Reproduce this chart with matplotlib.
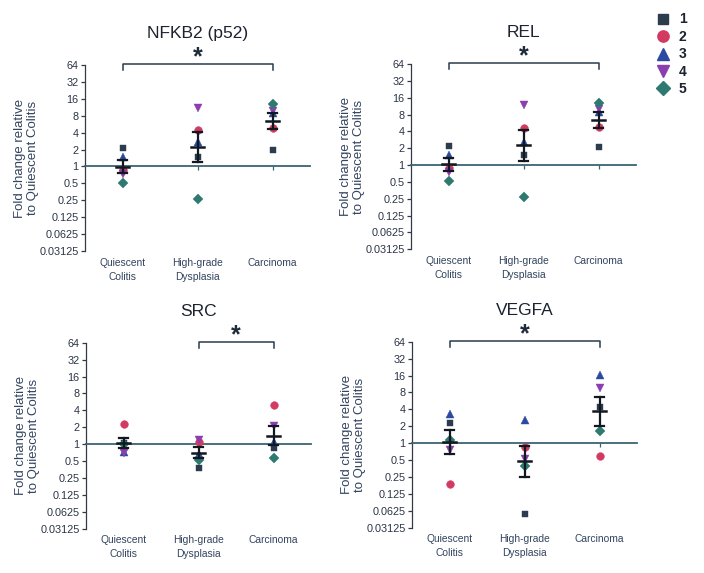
import numpy as np
import matplotlib
matplotlib.use("Agg")
import matplotlib.pyplot as plt
from matplotlib.lines import Line2D

plt.rcParams['font.family'] = ['Liberation Sans', 'DejaVu Sans']

categories = ["Quiescent\nColitis", "High-grade\nDysplasia", "Carcinoma"]
subjects = ["1", "2", "3", "4", "5"]
ytick_vals = [64, 32, 16, 8, 4, 2, 1, 0.5, 0.25, 0.125, 0.0625, 0.03125]
ytick_labels = ["64", "32", "16", "8", "4", "2", "1", "0.5", "0.25", "0.125", "0.0625", "0.03125"]

# values per group, ordered by subject 1..5
nfkb2_qc = [2.1, 0.88, 1.45, 0.73, 0.5]
nfkb2_hgd = [1.5, 4.5, 2.7, 11.2, 0.26]
nfkb2_ca = [2.0, 4.75, 8.9, 9.8, 12.9]

rel_qc = [2.2, 0.88, 1.5, 0.75, 0.53]
rel_hgd = [1.5, 4.6, 2.6, 12.0, 0.27]
rel_ca = [2.1, 4.8, 8.8, 10.0, 13.0]

src_qc = [1.05, 2.27, 0.73, 0.7, 1.0]
src_hgd = [0.38, 1.1, 0.68, 1.2, 0.52]
src_ca = [0.87, 4.96, 1.1, 2.1, 0.56]

vegfa_qc = [2.27, 0.19, 3.3, 0.76, 1.15]
vegfa_hgd = [0.054, 0.85, 2.6, 0.52, 0.4]
vegfa_ca = [4.4, 0.6, 16.5, 9.5, 1.65]

panels = [
    ("NFKB2 (p52)", [nfkb2_qc, nfkb2_hgd, nfkb2_ca], (0, 2)),
    ("REL", [rel_qc, rel_hgd, rel_ca], (0, 2)),
    ("SRC", [src_qc, src_hgd, src_ca], (1, 2)),
    ("VEGFA", [vegfa_qc, vegfa_hgd, vegfa_ca], (0, 2)),
]

markers = ['s', 'o', '^', 'v', 'D']
colors = ['#2c3b4e', '#d23a62', '#2a49a3', '#8b3fae', '#2e7a70']
msizes = [5.0, 5.6, 5.8, 5.8, 5.0]

W, H = 704, 573
fig = plt.figure(figsize=(W / 100, H / 100), dpi=100)

# axes rectangles in pixels: (left, top(64), bottom(0.03125)) ; width 225px
rects = [(85, 65, 251), (411, 64, 249.3), (86, 342.7, 528.7), (412, 341.7, 527.7)]
axw = 225

text_col = '#2b3446'
lab_col = '#33445f'

for (title, groups, sig), (lx, ty, by) in zip(panels, rects):
    ax = fig.add_axes([lx / W, 1 - by / H, axw / W, (by - ty) / H])
    ax.set_yscale('log', base=2)
    ax.set_ylim(0.03125, 64)
    ax.set_xlim(-0.5, 2.5)
    ax.set_yticks(ytick_vals)
    ax.set_yticklabels(ytick_labels)
    ax.yaxis.set_minor_locator(matplotlib.ticker.NullLocator())
    ax.tick_params(axis='y', direction='out', length=3, width=0.9, colors='#333a44',
                   labelsize=7.8, labelcolor=text_col, pad=1.5)
    for s in ['top', 'right']:
        ax.spines[s].set_visible(False)
    ax.spines['left'].set_color('#333a44')
    ax.spines['left'].set_linewidth(0.9)
    # x axis drawn at y = 1
    ax.spines['bottom'].set_position(('data', 1))
    ax.spines['bottom'].set_color('#3a6474')
    ax.spines['bottom'].set_linewidth(1.3)
    ax.set_xticks([0, 1, 2])
    ax.tick_params(axis='x', direction='out', length=3, width=0.9, colors='#3a6474',
                   labelbottom=False)
    ax.patch.set_alpha(0)

    trans = ax.get_xaxis_transform()
    for i, c in enumerate(categories):
        ax.text(i, -0.035, c, transform=trans, ha='center', va='top', fontsize=7.4,
                color=lab_col, linespacing=1.5)

    for gi, vals in enumerate(groups):
        for si, v in enumerate(vals):
            ax.plot(gi, v, marker=markers[si], color=colors[si], markersize=msizes[si],
                    markeredgewidth=0.3, markeredgecolor=colors[si], linestyle='none',
                    zorder=3, clip_on=False)
        lv = np.log2(vals)
        m = lv.mean()
        sem = lv.std(ddof=1) / np.sqrt(len(lv))
        lo, hi = 2 ** (m - sem), 2 ** (m + sem)
        ax.plot([gi, gi], [lo, hi], color='#121820', lw=1.6, zorder=4)
        ax.plot([gi - 0.09, gi + 0.09], [2 ** m, 2 ** m], color='#121820', lw=1.8, zorder=4)
        ax.plot([gi - 0.055, gi + 0.055], [lo, lo], color='#121820', lw=1.6, zorder=4)
        ax.plot([gi - 0.055, gi + 0.055], [hi, hi], color='#121820', lw=1.6, zorder=4)

    # significance bracket
    a, b = sig
    yb = 2 ** 6.05
    ax.plot([a, a, b, b], [2 ** 5.68, yb, yb, 2 ** 5.68], color='#2b3a4a', lw=1.1,
            clip_on=False, zorder=5)
    ax.text((a + b) / 2, 2 ** 6.45, "*", ha='center', va='center', fontsize=18,
            fontweight='bold', color='#1f2a3a', clip_on=False)

    ax.set_title(title, fontsize=12.5, color='#1c2230', pad=19.5)

    ax.set_ylabel("Fold change relative\nto Quiescent Colitis", fontsize=9.5,
                  color=lab_col, labelpad=0.5, linespacing=1.05)

handles = [Line2D([], [], marker=markers[i], color=colors[i], linestyle='none',
                  markersize=msizes[i] * 1.45) for i in range(5)]
fig.legend(handles, subjects, loc='upper left', bbox_to_anchor=(649 / W, 1 - 5.5 / H),
           frameon=False, labelspacing=0.25, handletextpad=0.65,
           handlelength=1.0, borderpad=0, labelcolor='#1c2230',
           prop={'weight': 'bold', 'size': 10})

fig.savefig("out.png", dpi=100)
